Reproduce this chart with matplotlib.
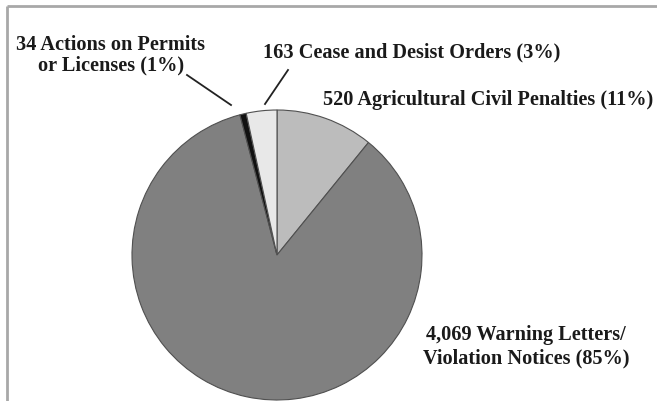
import matplotlib.pyplot as plt

# enforcement actions (counts), clockwise from 12 o'clock
categories = ["Agricultural Civil Penalties", "Warning Letters/\nViolation Notices",
              "Actions on Permits\nor Licenses", "Cease and Desist Orders"]
counts = [520, 4069, 34, 163]
percents = [11, 85, 1, 3]
colors = ["#bcbcbc", "#808080", "#111111", "#e8e8e8"]

W, H = 657, 402
fig = plt.figure(figsize=(W / 100, H / 100), dpi=100)
ax = fig.add_axes([0, 0, 1, 1])

# pixel-space placement (y measured from the top of the image)
cx, cy, r = 277, 256, 145
ax.pie(counts, colors=colors, startangle=90, counterclock=False,
       center=(cx, H - cy), radius=r, frame=True,
       wedgeprops=dict(edgecolor="#505050", linewidth=0.8))
ax.set_xlim(0, W)
ax.set_ylim(0, H)
ax.set_aspect("equal")
ax.axis("off")

# frame remnants on top and left
ax.plot([7, W], [H - 7, H - 7], color="#a8a8a8", lw=2, solid_capstyle="butt")
ax.plot([7, 7], [H - 7, 0], color="#a8a8a8", lw=2, solid_capstyle="butt")

font = dict(family="Liberation Serif", fontweight="bold", fontsize=14.6,
            color="#1a1a1a")

ax.text(111, H - 55, f"{counts[2]} Actions on Permits\nor Licenses ({percents[2]}%)",
        ha="center", va="center", linespacing=1.05, **font)
ax.text(263, H - 52, f"{counts[3]} {categories[3]} ({percents[3]}%)",
        ha="left", va="center", **font)
ax.text(323, H - 100, f"{counts[0]} {categories[0]} ({percents[0]}%)",
        ha="left", va="center", **font)
ax.text(526, H - 347, f"{counts[1]:,} Warning Letters/\nViolation Notices ({percents[1]}%)",
        ha="center", va="center", linespacing=1.2, **font)

# leader lines
ax.plot([187, 231], [H - 76, H - 106], color="#222222", lw=1.3)
ax.plot([288, 265], [H - 71, H - 105], color="#222222", lw=1.3)

fig.savefig("out.png", dpi=100)
